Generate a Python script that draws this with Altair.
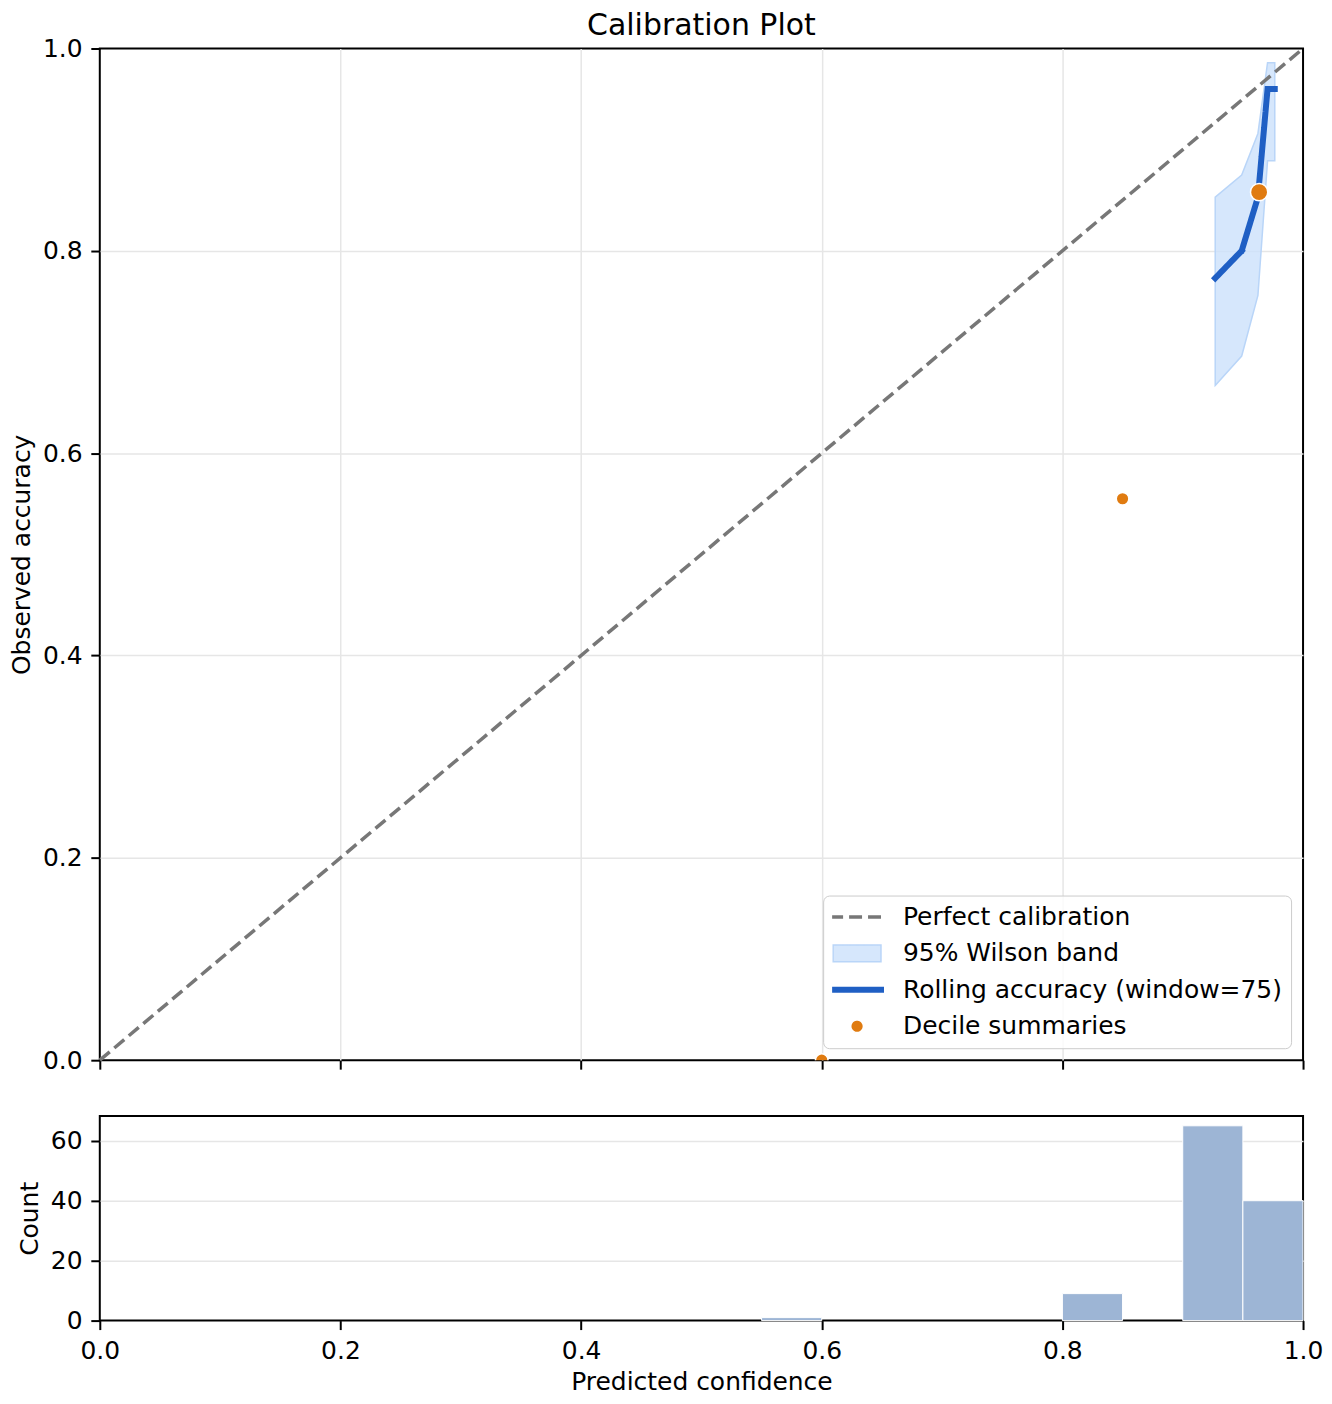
import altair as alt
import pandas as pd

# legend order
series_names = ["Perfect calibration", "95% Wilson band",
                "Rolling accuracy (window=75)", "Decile summaries"]

# perfect calibration diagonal
diag_conf = [0.0, 1.0]
diag_acc = [0.0, 1.0]

# rolling accuracy and its 95% Wilson band
roll_conf = [0.927, 0.949, 0.9625, 0.9705, 0.9765]
roll_acc = [0.773, 0.800, 0.853, 0.960, 0.960]
band_low = [0.667, 0.696, 0.756, 0.889, 0.889]
band_high = [0.853, 0.875, 0.916, 0.986, 0.986]

# decile summaries (last one is the big marker)
decile_conf = [0.600, 0.850]
decile_acc = [0.000, 0.555]
big_conf = [0.9635]
big_acc = [0.858]

# histogram of predicted confidence
bin_start = [0.55, 0.80, 0.90, 0.95]
bin_end = [0.60, 0.85, 0.95, 1.00]
bin_count = [1, 9, 65, 40]

tick_vals = [0.0, 0.2, 0.4, 0.6, 0.8, 1.0]
count_ticks = [0, 20, 40, 60]

# styles per series (also drive the legend symbols)
fill_range = ["transparent", "rgba(204,225,251,0.8)", "transparent", "#e07b10"]
stroke_range = ["#777777", "#b9d5f8", "#1f5fc4", "white"]
width_range = [3.5, 1.5, 6, 1.5]
dash_range = [[13, 6], [1, 0], [1, 0], [1, 0]]
shape_range = ["stroke", "M-0.94,-0.33H0.94V0.33H-0.94Z", "stroke", "circle"]
size_range = [2916, 2601, 2916, 160]

diag_df = pd.DataFrame({"conf": diag_conf, "acc": diag_acc, "series": series_names[0]})
band_df = pd.DataFrame({"conf": roll_conf, "low": band_low, "high": band_high, "series": series_names[1]})
roll_df = pd.DataFrame({"conf": roll_conf, "acc": roll_acc, "series": series_names[2]})
decile_df = pd.DataFrame({"conf": decile_conf, "acc": decile_acc, "series": series_names[3]})
big_df = pd.DataFrame({"conf": big_conf, "acc": big_acc, "series": series_names[3]})
hist_df = pd.DataFrame({"start": bin_start, "end": bin_end, "count": bin_count})

legend = alt.Legend(
    title=None, orient="bottom-right", offset=12, padding=9,
    labelFontSize=25, labelLimit=600, labelColor="black",
    rowPadding=10.5, clipHeight=25, symbolOffset=-5, labelOffset=16,
    fillColor="rgba(255,255,255,0.8)", strokeColor="#cccccc", cornerRadius=6,
)


def enc(channel, rng, **kw):
    return channel("series:N", scale=alt.Scale(domain=series_names, range=rng, **kw), legend=legend)


fill = enc(alt.Fill, fill_range)
stroke = enc(alt.Stroke, stroke_range)
width = enc(alt.StrokeWidth, width_range, type="ordinal")
dash = enc(alt.StrokeDash, dash_range)
shape = enc(alt.Shape, shape_range)
size = enc(alt.Size, size_range, type="ordinal")

# no grid line on the frame itself
inner_grid = {"condition": {"test": "datum.value == 0 || datum.value == 1", "value": 0}, "value": 1}

x_main = alt.X("conf:Q", scale=alt.Scale(domain=[0, 1], nice=False),
               axis=alt.Axis(values=tick_vals, labels=False, title=None, gridOpacity=inner_grid))
y_main = alt.Y("acc:Q", scale=alt.Scale(domain=[0, 1], nice=False),
               axis=alt.Axis(values=tick_vals, format=".1f", title="Observed accuracy",
                             titlePadding=7.5, gridOpacity=inner_grid))

band = alt.Chart(band_df).mark_area().encode(
    x=x_main,
    y=alt.Y("low:Q", scale=alt.Scale(domain=[0, 1], nice=False)),
    y2="high:Q",
    fill=fill, stroke=stroke, strokeWidth=width, strokeDash=dash,
)
diag = alt.Chart(diag_df).mark_line().encode(
    x=x_main, y=y_main, stroke=stroke, strokeWidth=width, strokeDash=dash,
)
roll = alt.Chart(roll_df).mark_line(strokeCap="square").encode(
    x=x_main, y=y_main, stroke=stroke, strokeWidth=width, strokeDash=dash,
)
deciles = alt.Chart(decile_df).mark_point(filled=True, opacity=1, clip=True).encode(
    x=x_main, y=y_main, fill=fill, stroke=stroke, strokeWidth=width, shape=shape, size=size,
)
big = alt.Chart(big_df).mark_point(filled=True, opacity=1, shape="circle", size=300).encode(
    x=x_main, y=y_main, fill=fill, stroke=stroke, strokeWidth=width,
)

main = alt.layer(band, diag, roll, deciles, big).properties(
    width=1206, height=1014,
    title=alt.Title("Calibration Plot", fontSize=30, fontWeight="normal", anchor="middle",
                    frame="group", offset=-4, color="black"),
)

hist = alt.Chart(hist_df).mark_bar(color="#9db5d5", stroke="white", strokeWidth=1).encode(
    x=alt.X("start:Q", scale=alt.Scale(domain=[0, 1], nice=False),
            axis=alt.Axis(values=tick_vals, format=".1f", title="Predicted confidence",
                          grid=False, titlePadding=6)),
    x2="end:Q",
    y=alt.Y("count:Q", scale=alt.Scale(domain=[0, 68.25], nice=False),
            axis=alt.Axis(values=count_ticks, title="Count", titlePadding=7.5,
                          gridOpacity={"condition": {"test": "datum.value == 0", "value": 0}, "value": 1})),
    y2=alt.datum(0),
).properties(width=1206, height=205)

legend_channels = ["fill", "stroke", "strokeWidth", "strokeDash", "shape", "size"]
chart = alt.vconcat(main, hist, spacing=41).resolve_scale(
    **{c: "independent" for c in legend_channels}
).resolve_legend(
    **{c: "independent" for c in legend_channels}
).properties(padding=0).configure(
    font="DejaVu Sans"
).configure_view(
    stroke="black", strokeWidth=2, fill=None
).configure_axis(
    labelFontSize=25, titleFontSize=25, titleFontWeight="normal",
    labelColor="black", titleColor="black",
    tickSize=9, tickWidth=2, tickColor="black", labelPadding=8.75,
    domain=False, gridColor="#e6e6e6", gridWidth=1.5, labelFlush=False,
)

chart.save("out.html", embed_options={"renderer": "svg", "actions": False})
